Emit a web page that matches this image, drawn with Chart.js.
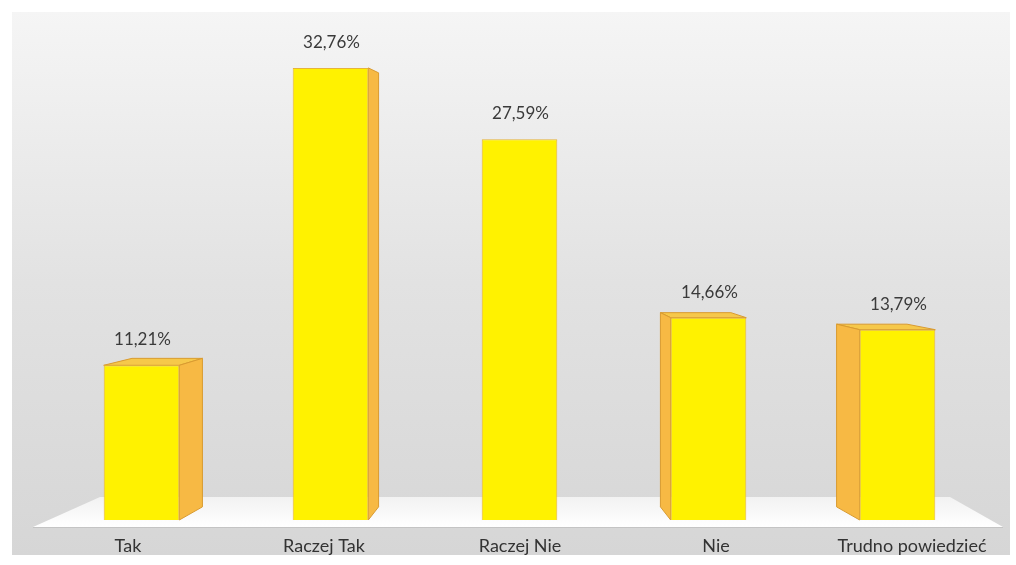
<!DOCTYPE html>
<html>
<head>
<meta charset="utf-8">
<script src="https://cdn.jsdelivr.net/npm/chart.js@4.4.1/dist/chart.umd.min.js"></script>
<style>
  html, body { margin: 0; padding: 0; background: #ffffff; }
  #wrap { width: 1016px; height: 565px; }
</style>
</head>
<body>
<div id="wrap"><canvas id="c" width="1016" height="565"></canvas></div>
<script>
// ---- data ----
const categories = ['Tak', 'Raczej Tak', 'Raczej Nie', 'Nie', 'Trudno powiedzieć'];
const values = [11.21, 32.76, 27.59, 14.66, 13.79];
const valueLabels = values.map(v => v.toFixed(2).replace('.', ',') + '%');
const yMin = 0;
const yMax = 35;

// ---- style ----
const FRONT = '#fff200';
const FRONT_BORDER = '#e6b43a';
const SIDE = '#f7b944';
const TOP = '#f6c84a';
const EDGE = '#d99b30';
const KX = 0.068, KY = 0.04, VPY_FRAC = 0.32;
const LABEL_MIN = -0.413, LABEL_MAX = 4.408;

const backgroundPlugin = {
  id: 'panel',
  beforeDraw(chart) {
    const ctx = chart.ctx;
    ctx.save();
    ctx.fillStyle = '#ffffff';
    ctx.fillRect(0, 0, chart.width, chart.height);
    const g = ctx.createLinearGradient(0, 12, 0, 555);
    g.addColorStop(0, '#f5f5f5');
    g.addColorStop(0.5, '#e2e2e2');
    g.addColorStop(1, '#d6d6d6');
    ctx.fillStyle = g;
    ctx.fillRect(12, 12, 998, 543);
    ctx.restore();
  }
};

const floorAndSidesPlugin = {
  id: 'threeD',
  beforeDatasetsDraw(chart) {
    const ctx = chart.ctx;
    const a = chart.chartArea;
    const yS = chart.scales.y;
    const xS = chart.scales.x;
    const base = yS.getPixelForValue(0);
    // floor
    ctx.save();
    const fy = base + 7, by = base - 23;
    ctx.beginPath();
    ctx.moveTo(a.left - 14, fy);
    ctx.lineTo(a.right + 11, fy);
    ctx.lineTo(a.right - 42, by);
    ctx.lineTo(a.left + 53, by);
    ctx.closePath();
    const fg = ctx.createLinearGradient(0, by, 0, fy);
    fg.addColorStop(0, '#f2f2f2');
    fg.addColorStop(1, '#ffffff');
    ctx.fillStyle = fg;
    ctx.fill();
    ctx.strokeStyle = '#c4c4c4';
    ctx.lineWidth = 1;
    ctx.beginPath();
    ctx.moveTo(a.left - 14, fy + 0.5);
    ctx.lineTo(a.right + 11, fy + 0.5);
    ctx.stroke();
    ctx.restore();

    const vpX = xS.getPixelForValue(Math.floor(categories.length / 2));
    const vpY = a.top + VPY_FRAC * (a.bottom - a.top);
    const meta = chart.getDatasetMeta(0);
    ctx.save();
    ctx.lineWidth = 1;
    ctx.strokeStyle = EDGE;
    meta.data.forEach(bar => {
      const p = bar.getProps(['x', 'y', 'base', 'width'], true);
      const L = p.x - p.width / 2, R = p.x + p.width / 2, T = p.y, B = p.base;
      const dxL = KX * (vpX - L), dxR = KX * (vpX - R);
      const dyT = KY * (vpY - T), dyB = KY * (vpY - B);
      if (T > vpY) {
        ctx.beginPath();
        ctx.moveTo(L, T);
        ctx.lineTo(R, T);
        ctx.lineTo(R + dxR, T + dyT);
        ctx.lineTo(L + dxL, T + dyT);
        ctx.closePath();
        ctx.fillStyle = TOP;
        ctx.fill();
        ctx.stroke();
      }
      if (R < vpX - 2) {
        ctx.beginPath();
        ctx.moveTo(R, T);
        ctx.lineTo(R + dxR, T + dyT);
        ctx.lineTo(R + dxR, B + dyB);
        ctx.lineTo(R, B);
        ctx.closePath();
        ctx.fillStyle = SIDE;
        ctx.fill();
        ctx.stroke();
      }
      if (L > vpX + 2) {
        ctx.beginPath();
        ctx.moveTo(L, T);
        ctx.lineTo(L + dxL, T + dyT);
        ctx.lineTo(L + dxL, B + dyB);
        ctx.lineTo(L, B);
        ctx.closePath();
        ctx.fillStyle = SIDE;
        ctx.fill();
        ctx.stroke();
      }
    });
    ctx.restore();
  },
  afterDatasetsDraw(chart) {
    const ctx = chart.ctx;
    const meta = chart.getDatasetMeta(0);
    ctx.save();
    ctx.font = '17px Lato';
    ctx.fillStyle = '#3a3a3a';
    ctx.textAlign = 'center';
    ctx.textBaseline = 'alphabetic';
    meta.data.forEach((bar, i) => {
      const p = bar.getProps(['x', 'y'], true);
      ctx.fillText(valueLabels[i], p.x + 1, p.y - 20);
    });
    ctx.restore();
  }
};

new Chart(document.getElementById('c'), {
  type: 'bar',
  data: {
    labels: categories,
    datasets: [{
      data: values,
      backgroundColor: FRONT,
      borderColor: FRONT_BORDER,
      borderWidth: 1,
      barPercentage: 0.4,
      categoryPercentage: 1.0
    }]
  },
  options: {
    responsive: false,
    devicePixelRatio: 1,
    animation: false,
    layout: { padding: { left: 47, right: 24, top: 37, bottom: 9 } },
    plugins: { legend: { display: false }, tooltip: { enabled: false } },
    scales: {
      x: { type: 'category', display: false, offset: true },
      x2: {
        type: 'linear',
        position: 'bottom',
        offset: false,
        bounds: 'data',
        min: LABEL_MIN,
        max: LABEL_MAX,
        grid: { display: false, drawTicks: false, offset: false },
        border: { display: false },
        afterBuildTicks: axis => {
          axis.ticks = categories.map((c, i) => ({ value: i }));
          axis.min = LABEL_MIN;
          axis.max = LABEL_MAX;
        },
        afterFit: axis => { axis.height = 36; },
        ticks: {
          autoSkip: false,
          maxRotation: 0,
          padding: 15,
          color: '#333333',
          font: { family: 'Lato', size: 18 },
          callback: v => categories[v]
        }
      },
      y: { display: false, min: yMin, max: yMax }
    }
  },
  plugins: [backgroundPlugin, floorAndSidesPlugin]
});
</script>
</body>
</html>
